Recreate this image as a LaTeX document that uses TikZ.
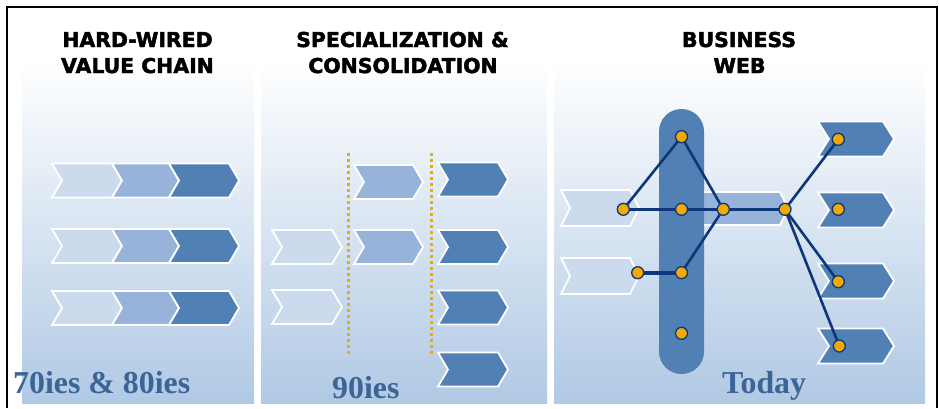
\documentclass[tikz,border=0pt]{standalone}
\usepackage{fontspec}
\newfontfamily\headfont{DejaVu Sans}[BoldFeatures={FakeBold=2.2}]
\newfontfamily\yearfont{Liberation Serif}
\definecolor{chevA}{HTML}{CBDAEC}
\definecolor{chevB}{HTML}{97B3D9}
\definecolor{chevC}{HTML}{5080B4}
\definecolor{panelbot}{HTML}{B0C9E4}
\definecolor{dotfill}{HTML}{F2A900}
\definecolor{linkblue}{HTML}{0D3778}
\definecolor{yeartext}{HTML}{3D6497}
\definecolor{orangedot}{HTML}{F2A900}
\pgfdeclarelayer{fg}
\pgfsetlayers{main,fg}
\tikzset{
  chevstyle/.style={draw=white, line width=1.8bp, line join=miter},
  panelstyle/.style={top color=white, bottom color=panelbot},
  orangedots/.style={draw=orangedot, line width=3bp, dash pattern=on 3bp off 3bp},
  dotstyle/.style={circle, fill=dotfill, draw=linkblue, line width=1.3bp, minimum size=12bp, inner sep=0pt},
  link/.style={draw=linkblue, line width=2.6bp, line cap=round},
  head/.style={font=\headfont\bfseries\fontsize{20.5}{20.5}\selectfont, inner sep=0pt, anchor=base},
  year/.style={font=\yearfont\bfseries\fontsize{32}{32}\selectfont, text=yeartext, inner sep=0pt, anchor=base west}
}
\newcommand{\chev}[6]{\filldraw[chevstyle, fill=#6] (#1,#2-#5) -- (#3,#2-#5) -- (#3+#4,#2) -- (#3,#2+#5) -- (#1,#2+#5) -- (#1+#4,#2) -- cycle;}
\begin{document}
\begin{tikzpicture}[x=1bp,y=-1bp]
\useasboundingbox (0,0) rectangle (939,408);
% panels
\foreach \a/\b in {22/254, 261/547, 554/925}
  \shade[panelstyle] (\a,60) rectangle (\b,403);
% border
\draw[line width=2bp] (6.5,408) -- (6.5,6.5) -- (937,6.5) -- (937,408);
% headings
\node[head] (h1a) at (137.5,47) {HARD-WIRED};
\node[head] (h1b) at (137.5,73) {VALUE CHAIN};
\node[head] (h2a) at (402.5,47) {SPECIALIZATION \&};
\node[head] (h2b) at (403,73) {CONSOLIDATION};
\node[head] (h3a) at (739,47) {BUSINESS};
\node[head] (h3b) at (739.5,73) {WEB};
% panel 1
\foreach \yc in {180.5,246,308}{
  \chev{52}{\yc}{112}{10}{17}{chevA}
  \chev{112}{\yc}{169}{10}{17}{chevB}
  \chev{169}{\yc}{229}{10}{17}{chevC}
}
% panel 2
\chev{272}{247}{332}{10}{17}{chevA}
\chev{272}{307}{332}{10}{17}{chevA}
\chev{354}{182}{413}{10}{17}{chevB}
\chev{354}{247}{413}{10}{17}{chevB}
\foreach \yc in {179.5,247,307.5,369.5}{
  \chev{438}{\yc}{498}{10}{17}{chevC}
}
\draw[orangedots] (348,153) -- (348,355);
\draw[orangedots] (431,153) -- (431,355);
% panel 3
\chev{561}{208}{630}{9}{18}{chevA}
\chev{561}{276}{630}{9}{18}{chevA}
\chev{690}{208.5}{780}{8}{16.5}{chevB}
\foreach \yc in {139,210,281,346}{
  \chev{818}{\yc}{883}{11}{17.5}{chevC}
}
\fill[chevC, rounded corners=22.4bp] (659,109) rectangle (704,374);
% dots
\begin{pgfonlayer}{fg}
\node[dotstyle] (top) at (681.5,136.7) {};
\node[dotstyle] (pm) at (681.5,209.3) {};
\node[dotstyle] (pl) at (681.5,272.7) {};
\node[dotstyle] (pb) at (681.5,333.3) {};
\node[dotstyle] (l1) at (623.3,209.3) {};
\node[dotstyle] (l2) at (637.7,272.7) {};
\node[dotstyle] (ma) at (723.3,209.3) {};
\node[dotstyle] (mb) at (785,209.3) {};
\node[dotstyle] (r1) at (838.3,139.3) {};
\node[dotstyle] (r2) at (838.3,209.3) {};
\node[dotstyle] (r3) at (838.3,281.7) {};
\node[dotstyle] (r4) at (839.3,346) {};
\end{pgfonlayer}
% links
\draw[link] (l1.center) -- (top.center) -- (ma.center);
\draw[link] (l1.center) -- (pm.center) -- (ma.center) -- (mb.center);
\draw[link, line width=4bp] (l2.center) -- (pl.center);
\draw[link] (pl.center) -- (ma.center);
\draw[link] (mb.center) -- (r1.center);
\draw[link] (mb.center) -- (r3.center);
\draw[link] (mb.center) -- (r4.center);
% years
\node[year] (y1) at (13,393) {70ies \& 80ies};
\node[year] (y2) at (332,398) {90ies};
\node[year] (y3) at (722,393) {Today};
\end{tikzpicture}
\end{document}
